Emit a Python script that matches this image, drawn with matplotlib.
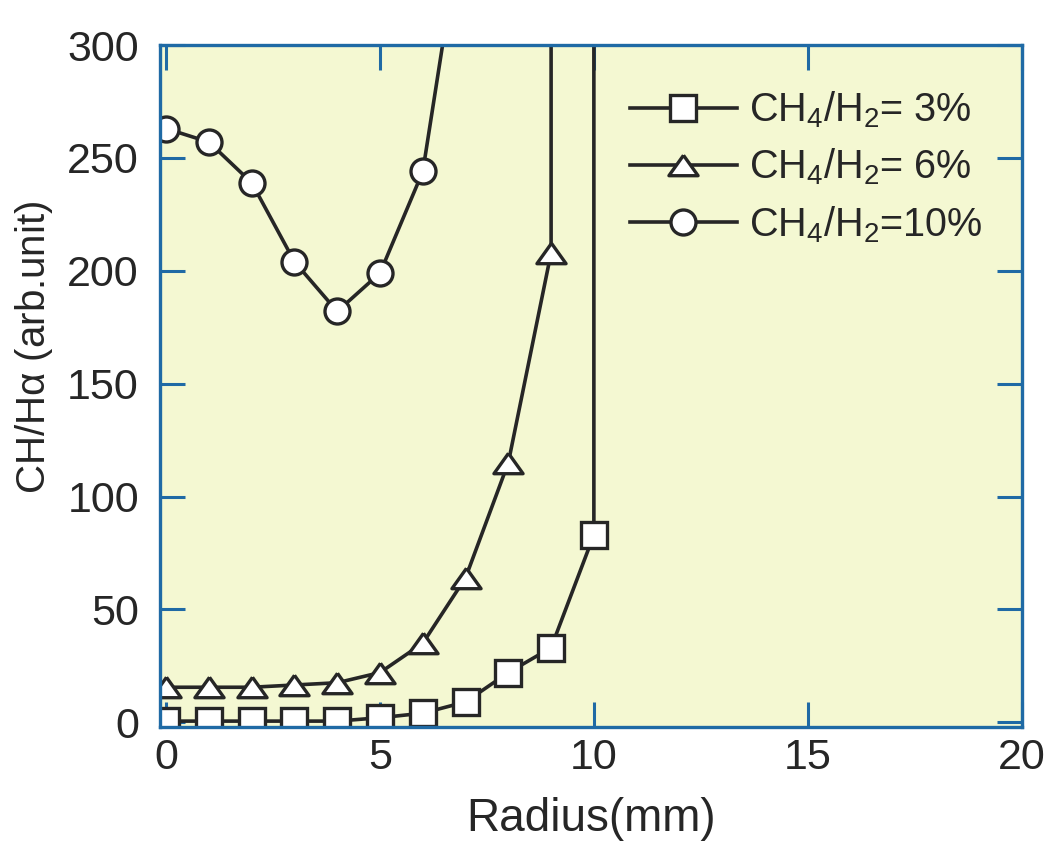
import matplotlib
matplotlib.use('Agg')
import matplotlib.pyplot as plt

plt.rcParams['font.family'] = ['Liberation Sans', 'DejaVu Sans']
plt.rcParams['mathtext.fontset'] = 'custom'
plt.rcParams['mathtext.rm'] = 'Liberation Sans'
plt.rcParams['mathtext.it'] = 'Liberation Sans:italic'
plt.rcParams['mathtext.default'] = 'regular'

# data (last point of each series is off-scale, clipped at the top)
r_3 = [0, 1, 2, 3, 4, 5, 6, 7, 8, 9, 10, 10]
v_3 = [0.5, 0.5, 0.5, 0.5, 0.5, 2, 4, 9, 22, 33, 83, 400]
r_6 = [0, 1, 2, 3, 4, 5, 6, 7, 8, 9, 9]
v_6 = [15.5, 15.5, 15.5, 16.5, 17.5, 22, 35, 64, 115, 208, 400]
r_10 = [0, 1, 2, 3, 4, 5, 6, 7]
v_10 = [263, 257, 239, 204, 182, 199, 244, 365]
labels = [r'CH$_4$/H$_2$= 3%', r'CH$_4$/H$_2$= 6%', r'CH$_4$/H$_2$=10%']

ink = '#262626'
blue = '#1f6aa5'
tri = [(0, 0.7), (-1, -0.7), (1, -0.7), (0, 0.7)]  # flat triangle like the original

fig = plt.figure(figsize=(10.51, 8.5), dpi=100)
ax = fig.add_axes([0.152, 0.145, 0.82, 0.802])
ax.set_facecolor('#f4f8d2')

style = dict(color=ink, lw=2.6, mfc='white', mec=ink, mew=2.4)
ax.plot(r_3, v_3, marker='s', ms=19, markevery=list(range(11)), label=labels[0], **style)
ax.plot(r_6, v_6, marker=tri, ms=21, markevery=list(range(10)), label=labels[1], **style)
ax.plot(r_10, v_10, marker='o', ms=18, markevery=list(range(7)), label=labels[2], **style)

ax.set_xlim(-0.15, 20)
ax.set_ylim(-2, 300)
ax.set_xticks([0, 5, 10, 15, 20])
ax.set_yticks([0, 50, 100, 150, 200, 250, 300])

for s in ax.spines.values():
    s.set_color(blue)
    s.set_linewidth(2.4)
ax.tick_params(direction='in', top=True, right=True, length=18, width=2.2,
               color=blue, labelcolor=ink, labelsize=31)
ax.tick_params(axis='x', pad=8)
ax.tick_params(axis='y', pad=15)

ax.set_xlabel('Radius(mm)', fontsize=33, color=ink, labelpad=14)
ax.set_ylabel(r'CH/H$\alpha$ (arb.unit)', fontsize=29, color=ink)
ax.yaxis.set_label_coords(-0.121, 0.556)

leg = ax.legend(loc='upper right', frameon=False, fontsize=28.5, handlelength=2.7,
                handletextpad=0.3, labelspacing=0.42, borderaxespad=0.55,
                bbox_to_anchor=(0.998, 0.99))
for t in leg.get_texts():
    t.set_color(ink)

fig.savefig('out.png', dpi=100, facecolor='white')
